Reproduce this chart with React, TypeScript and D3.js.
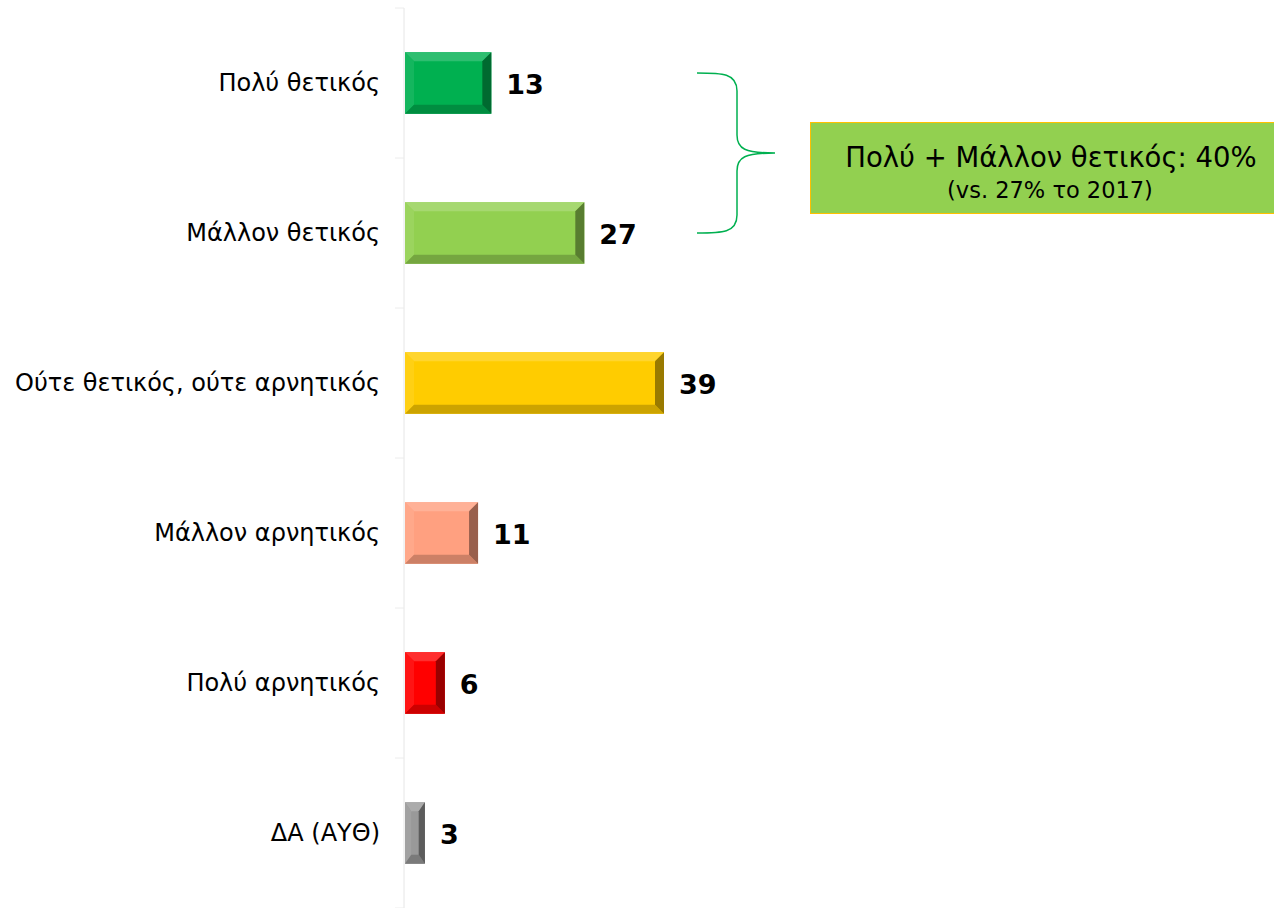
import React from "react";
import * as d3 from "d3";

const categories = [
  "Πολύ θετικός",
  "Μάλλον θετικός",
  "Ούτε θετικός, ούτε αρνητικός",
  "Μάλλον αρνητικός",
  "Πολύ αρνητικός",
  "ΔΑ (ΑΥΘ)",
];
const values = [13, 27, 39, 11, 6, 3];
const colors = ["#00B050", "#92D050", "#FFCC00", "#FFA080", "#FF0000", "#999999"];
const calloutLine1 = "Πολύ + Μάλλον θετικός: 40%";
const calloutLine2 = "(vs. 27% το 2017)";

const W = 1274;
const H = 908;
const axisX = 405;

export default function App() {
  const y = d3.scaleBand<string>().domain(categories).range([8, 908]).paddingInner(0.59).paddingOuter(0.295);
  const x = d3.scaleLinear().domain([0, 39]).range([axisX, 664]);
  const step = y.step();
  const top = 8;
  const boundaries = d3.range(categories.length + 1).map((i) => top + i * step);
  const font = "'DejaVu Sans', Verdana, sans-serif";

  return (
    <svg width={W} height={H} style={{ position: "absolute", left: 0, top: 0, background: "#fff" }} fontFamily={font}>
      <line x1={axisX - 1} x2={axisX - 1} y1={top} y2={H} stroke="#e6e6e6" strokeWidth={1} />
      {boundaries.map((b, i) => (
        <line key={i} x1={axisX - 10} x2={axisX - 1} y1={b} y2={b} stroke="#ececec" strokeWidth={1} />
      ))}
      {categories.map((c, i) => {
        const y0 = y(c)!;
        const y1 = y0 + y.bandwidth();
        const x0 = x(0);
        const x1 = x(values[i]);
        const bw = x1 - x0;
        const b = Math.min(9, bw / 3.2);
        const bv = Math.min(9, y.bandwidth() / 4);
        const base = d3.color(colors[i])!;
        const light = d3.interpolateRgb(colors[i], "#ffffff")(0.18);
        const lighter = d3.interpolateRgb(colors[i], "#ffffff")(0.08);
        const dark = d3.interpolateRgb(colors[i], "#000000")(0.2);
        const darker = d3.interpolateRgb(colors[i], "#000000")(0.4);
        const pts = (a: number[][]) => a.map((p) => p.join(",")).join(" ");
        const cy = (y0 + y1) / 2;
        return (
          <g key={c}>
            <rect x={x0} y={y0} width={bw} height={y1 - y0} fill={base.toString()} />
            <polygon points={pts([[x0, y0], [x1, y0], [x1 - b, y0 + bv], [x0 + b, y0 + bv]])} fill={light} />
            <polygon points={pts([[x0, y0], [x0 + b, y0 + bv], [x0 + b, y1 - bv], [x0, y1]])} fill={lighter} />
            <polygon points={pts([[x0, y1], [x1, y1], [x1 - b, y1 - bv], [x0 + b, y1 - bv]])} fill={dark} />
            <polygon points={pts([[x1, y0], [x1, y1], [x1 - b, y1 - bv], [x1 - b, y0 + bv]])} fill={darker} />
            <text x={380} y={cy} textAnchor="end" dominantBaseline="central" fontSize={24} fill="#000">
              {c}
            </text>
            <text x={x1 + 15} y={cy + 1} dominantBaseline="central" fontSize={27} fontWeight="bold" fill="#000">
              {values[i]}
            </text>
          </g>
        );
      })}
      <path
        d="M697,233 C722,233 737,233 737,215 L737,171 C737,157 745,153 775,153 C745,153 737,149 737,135 L737,91 C737,73 722,73 697,73"
        fill="none"
        stroke="#00B050"
        strokeWidth={1.5}
      />
      <rect x={810.5} y={122.5} width={470} height={91} fill="#92D050" stroke="#FFC000" strokeWidth={1} />
      <text x={1051} y={157} textAnchor="middle" dominantBaseline="central" fontSize={27.5} fill="#000">
        {calloutLine1}
      </text>
      <text x={1050} y={190} textAnchor="middle" dominantBaseline="central" fontSize={22.5} fill="#000">
        {calloutLine2}
      </text>
    </svg>
  );
}
